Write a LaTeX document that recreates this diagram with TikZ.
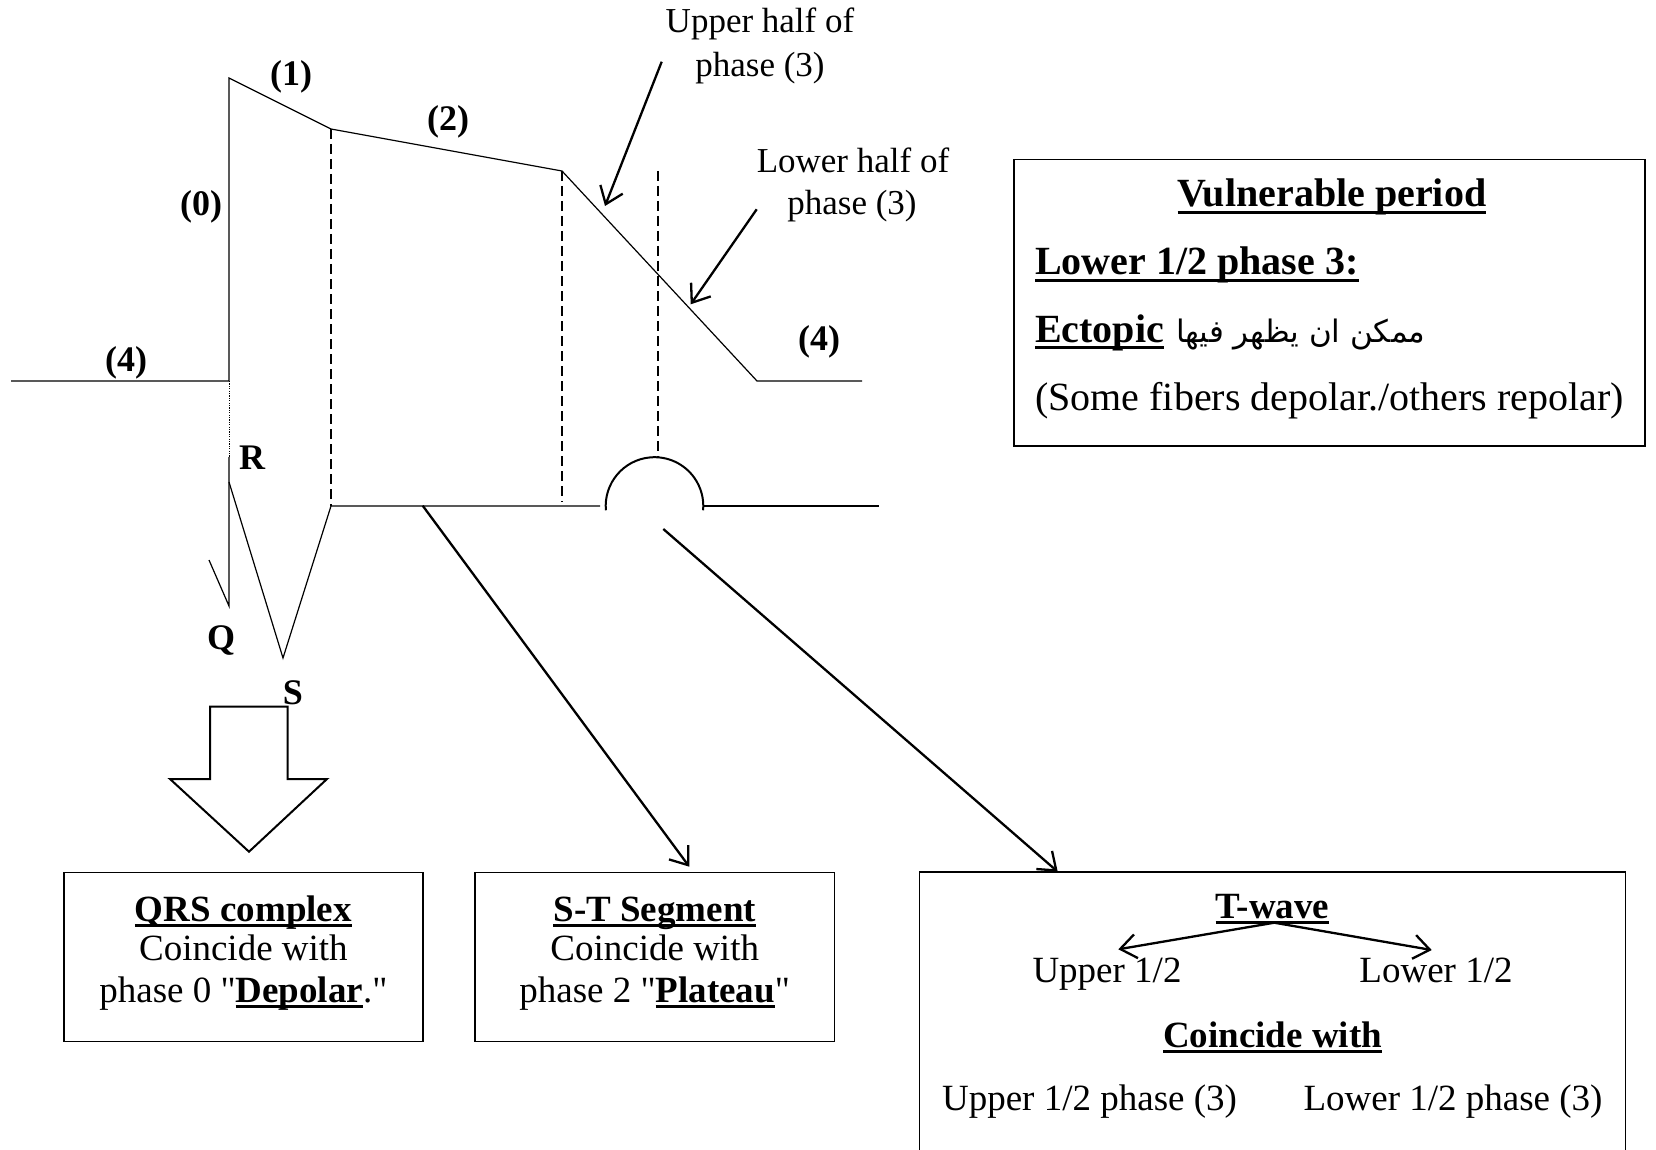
\documentclass[tikz,border=0pt]{standalone}
\usepackage{fontspec}
\setmainfont{Liberation Serif}[Ligatures=TeXOff]
\newfontfamily\arabicfont[Script=Arabic]{DejaVu Sans}
\TeXXeTstate=1
\usetikzlibrary{arrows.meta}

% word-processor style underline: a bar a little under the baseline
\newcommand\ulbar[1]{\setbox0\hbox{#1}\rlap{\rule[-0.17em]{\wd0}{0.08em}}\box0}

\begin{document}
\begin{tikzpicture}[x=1pt,y=-1pt,
  wave/.style={line width=1.2pt, line join=miter},
  guide/.style={line width=2pt, dash pattern=on 10pt off 5pt},
  pointer/.style={line width=2.3pt, -{Straight Barb[length=16pt,width=24pt]}},
  frame/.style={draw, line width=1.5pt, inner sep=0pt, outer sep=0pt},
  phase/.style={inner sep=0pt, font=\fontsize{36}{40}\selectfont\bfseries},
  note/.style={inner sep=0pt, font=\fontsize{35}{40}\selectfont},
  body/.style={inner sep=0pt, font=\fontsize{37}{40}\selectfont},
  vbody/.style={inner sep=0pt, font=\fontsize{40}{44}\selectfont}]
\useasboundingbox (0,0) rectangle (1656,1150);

% ---- action potential ----
\coordinate (b0) at (11,381);
\coordinate (p0) at (229,381);
\coordinate (pk) at (229,78);
\coordinate (p1) at (331,129);
\coordinate (p2) at (562,171);
\coordinate (p3) at (757,381);
\coordinate (b1) at (862,381);
\draw[wave] (b0) -- (p0) -- (pk) -- (p1) -- (p2) -- (p3) -- (b1);

% ---- ECG trace ----
\coordinate (rq) at (229,457);
\coordinate (qb) at (229,606);
\coordinate (qt) at (209,560);
\coordinate (rr) at (229,482);
\coordinate (ss) at (283,658);
\coordinate (st0) at (331,506);
\coordinate (st1) at (600,506);
\coordinate (tw) at (654.5,506);
\coordinate (t1) at (703.5,506);
\coordinate (t2) at (879,506);
\draw[line width=0.8pt, dash pattern=on 1.2pt off 1.2pt] (p0) -- (rq);
\draw[wave] (rq) -- (qb) -- (qt);
\draw[wave] (rr) -- (ss) -- (st0) -- (st1);
\draw[line width=2pt] (tw) ++(175:48.8) arc[start angle=175, end angle=365, radius=48.8];
\draw[wave] (t1) -- (t2);

% ---- vertical guides ----
\coordinate (g1) at (331,506);
\coordinate (g2) at (562,502);
\coordinate (g3a) at (658,171);
\coordinate (g3b) at (658,457);
\draw[guide] (p1) -- (g1);
\draw[guide] (p2) -- (g2);
\draw[guide] (g3a) -- (g3b);

% ---- phase labels ----
\node[phase] (l4a) at (126,363) {(4)};
\node[phase] (l0) at (201,207) {(0)};
\node[phase] (l1) at (291,77) {(1)};
\node[phase] (l2) at (448,122) {(2)};
\node[phase] (l4b) at (819,342) {(4)};
\node[phase] (lr) at (252,458) {R};
\node[phase] (lq) at (221,640) {Q};
\node[phase] (ls) at (293,693) {S};

% ---- phase 3 notes ----
\node[note, anchor=base] (up1) at (760,33) {Upper half of};
\node[note, anchor=base] (up2) at (760,77) {phase (3)};
\node[note, anchor=base] (lo1) at (853,173) {Lower half of};
\node[note, anchor=base] (lo2) at (852,215) {phase (3)};
\coordinate (ua) at (661.7,61.7);
\coordinate (ub) at (605,206);
\coordinate (la) at (756.7,209.3);
\coordinate (lb) at (690.7,304.3);
\draw[pointer] (ua) -- (ub);
\draw[pointer] (la) -- (lb);

% ---- vulnerable period ----
\node[frame, minimum width=631, minimum height=286.5] (vul) at (1329.5,302.75) {};
\node[vbody, anchor=base] (vt) at (1332,207) {\ulbar{\bfseries Vulnerable period}};
\node[vbody, anchor=base west] (v1) at (1035,275) {\ulbar{\bfseries Lower 1/2 phase 3:}};
\node[vbody, anchor=base west] (v2) at (1035,342) {\ulbar{\bfseries Ectopic}\hskip0.3em{\arabicfont\fontsize{31}{40}\selectfont\beginR ممكن ان يظهر فيها\endR}};
\node[vbody, anchor=base west] (v3) at (1035,410) {(Some fibers depolar./others repolar)};

% ---- block arrow to QRS box ----
\draw[line width=2pt, line join=miter] (210,706.7) -- (210,779) -- (170,779) -- (249,851.7)
  -- (327,779) -- (287.7,779) -- (287.7,706.7) -- cycle;

% ---- QRS box ----
\node[frame, minimum width=359.2, minimum height=169] (qrs) at (243.4,957.2) {};
\node[body, anchor=base] (q1) at (243.4,921) {\ulbar{\bfseries QRS complex}};
\node[body, anchor=base] (q2) at (243.4,960) {Coincide with};
\node[body, anchor=base] (q3) at (243.4,1002) {phase 0 "\ulbar{\bfseries Depolar}."};

% ---- S-T box ----
\node[frame, minimum width=359.3, minimum height=169] (stb) at (654.7,957.2) {};
\node[body, anchor=base] (s1) at (654.7,921) {\ulbar{\bfseries S-T Segment}};
\node[body, anchor=base] (s2) at (654.7,960) {Coincide with};
\node[body, anchor=base] (s3) at (654.7,1002) {phase 2 "\ulbar{\bfseries Plateau}"};
\coordinate (sa) at (422.7,505.7);
\coordinate (sb) at (689.3,866.7);
\draw[pointer] (sa) -- (sb);

% ---- T-wave box ----
\node[frame, minimum width=706.3, minimum height=287.7] (twb) at (1272.5,1016) {};
\node[body, anchor=base] (w1) at (1272.5,918) {\ulbar{\bfseries T-wave}};
\node[body, anchor=base] (w2) at (1107,982) {Upper 1/2};
\node[body, anchor=base] (w3) at (1436,982) {Lower 1/2};
\node[body, anchor=base] (w4) at (1272.5,1047) {\ulbar{\bfseries Coincide with}};
\node[body, anchor=base] (w5) at (1089.5,1110) {Upper 1/2 phase (3)};
\node[body, anchor=base] (w6) at (1453,1110) {Lower 1/2 phase (3)};
\coordinate (wa) at (1274.3,922.7);
\coordinate (wl) at (1118.3,949.3);
\coordinate (wr) at (1431.7,950);
\draw[pointer] (wa) -- (wl);
\draw[pointer] (wa) -- (wr);
\coordinate (ta) at (663.3,529);
\coordinate (tb) at (1057.7,871.7);
\draw[pointer] (ta) -- (tb);
\end{tikzpicture}
\end{document}
